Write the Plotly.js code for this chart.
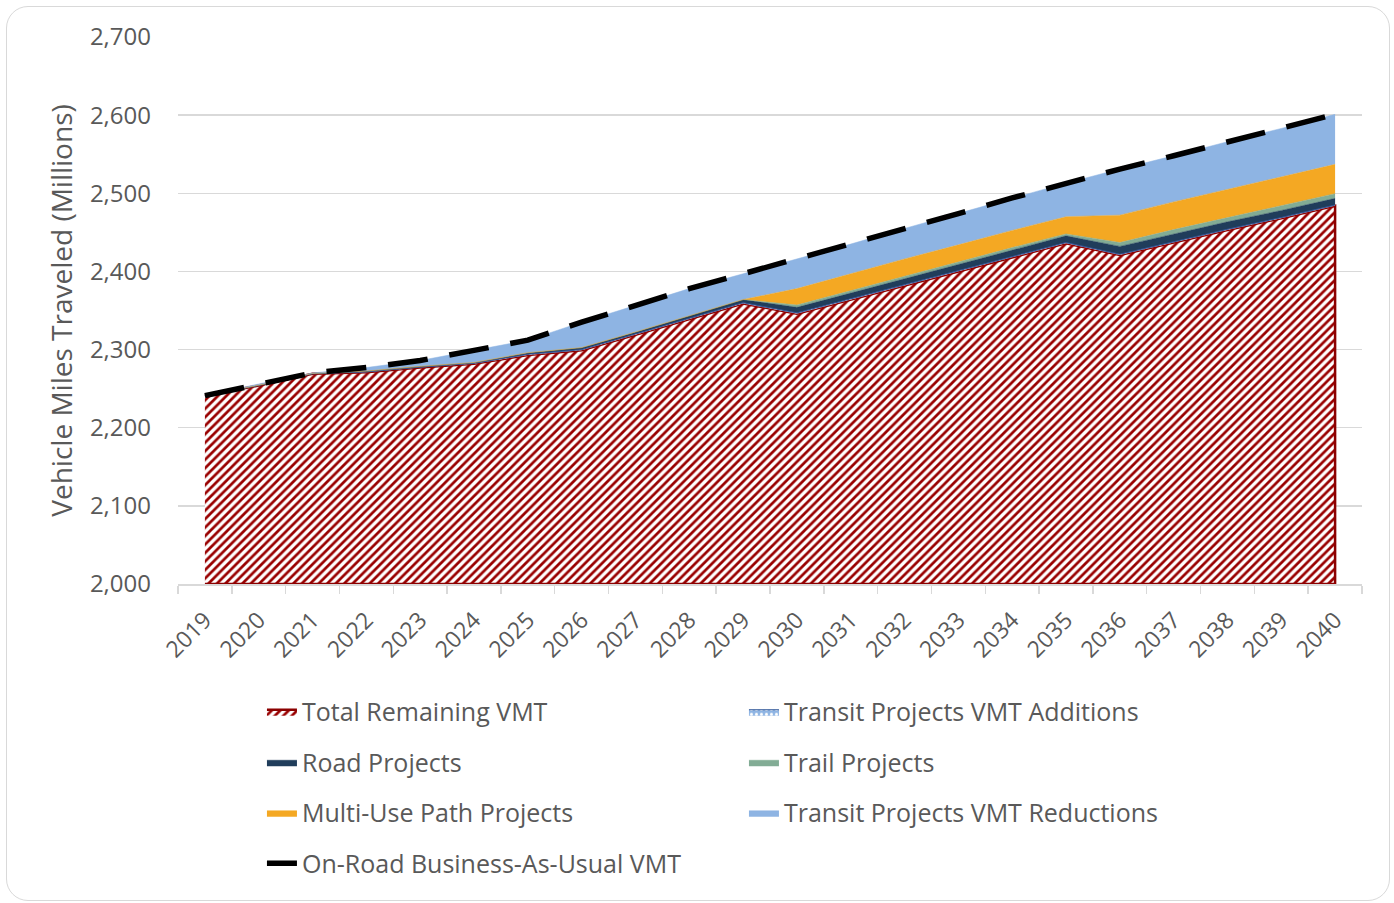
<!DOCTYPE html>
<html><head><meta charset="utf-8">
<script src="https://cdn.plot.ly/plotly-3.0.1.min.js"></script>
<style>
html,body{margin:0;padding:0;background:#fff;}
#chart{width:1394px;height:903px;}
#frame{position:absolute;left:6px;top:6px;width:1384px;height:895px;border:1.5px solid #D9D9D9;border-radius:22px;box-sizing:border-box;pointer-events:none;}
</style></head><body>
<div id="chart"></div><div id="frame"></div>
<script>
const years = ['2019','2020','2021','2022','2023','2024','2025','2026','2027','2028','2029','2030','2031','2032','2033','2034','2035','2036','2037','2038','2039','2040'];
const totalRemaining = [2241,2254,2269,2271,2277,2282,2293,2299,2319,2339,2359,2346,2364,2382,2400,2418,2436,2421,2437,2453,2468,2484];
const transitAdditions = [0,0,0,0.5,0.5,0.5,1,1,1,1,1,1,1,1,1,1,1,1,1,1,1,1];
const roadProjects = [0,0.5,0.5,1,1,1,2,2.5,2.5,3,4,7,7.5,8,8,8.5,8.5,10,10,9.5,9,8.5];
const trailProjects = [0,0,0,0,0,0,0,0,0,0,0,3,3,3,3,3,2.5,5,5.5,5.5,6,6];
const multiUsePath = [0,0,0,0,0,0,0,0,0,0,0,21,21.5,22,22,22,22,35,35.5,36,37,37.5];
const transitReductions = [0,1.5,0.5,4.5,7.5,15.5,16,32.5,34.5,35,33,38,38,39,40,41.5,43,59,59,61,62,64];
const bauVMT = [2241,2256,2270,2277,2286,2299,2312,2335,2357,2378,2397,2416,2435,2455,2474,2494,2513,2531,2548,2566,2583,2601];
const yMin = 2000, yMax = 2700;

const FONT = "'Open Sans', 'Liberation Sans', sans-serif";
const GREY = '#595959';

function addArr(a,b){return a.map((v,i)=>v+b[i]);}
const c0 = totalRemaining.slice();
const c1 = addArr(c0, transitAdditions);
const c2 = addArr(c1, roadProjects);
const c3 = addArr(c2, trailProjects);
const c4 = addArr(c3, multiUsePath);
const c5 = addArr(c4, transitReductions);

const polyX = years.concat(years.slice().reverse());
const polyY = totalRemaining.concat(years.map(()=>yMin));

const traces = [
  {x: polyX, y: polyY, type:'scatter', mode:'lines', fill:'toself', name:'Total Remaining VMT',
   fillcolor:'#ffffff', fillpattern:{shape:'/', fgcolor:'#990000', bgcolor:'#ffffff', size:6, solidity:0.45},
   line:{color:'#8B0000', width:2.5}, legend:'legend', legendgroup:'g1', hoverinfo:'skip'},
  {x: years, y: c0, type:'scatter', mode:'lines', line:{width:0, color:'rgba(0,0,0,0)'}, showlegend:false, hoverinfo:'skip'},
  {x: years, y: c1, type:'scatter', mode:'lines', fill:'tonexty', name:'Transit Projects VMT Additions',
   fillcolor:'#8EB4E3', fillpattern:{shape:'.', fgcolor:'#ffffff', bgcolor:'#8EB4E3', size:5, solidity:0.3},
   line:{color:'#2F5597', width:1}, legend:'legend2', legendgroup:'g2'},
  {x: years, y: c2, type:'scatter', mode:'lines', fill:'tonexty', name:'Road Projects',
   fillcolor:'#203D5B', line:{color:'#203D5B', width:0.5}, legend:'legend', legendgroup:'g3'},
  {x: years, y: c3, type:'scatter', mode:'lines', fill:'tonexty', name:'Trail Projects',
   fillcolor:'#82AC95', line:{color:'#82AC95', width:0.5}, legend:'legend2', legendgroup:'g4'},
  {x: years, y: c4, type:'scatter', mode:'lines', fill:'tonexty', name:'Multi-Use Path Projects',
   fillcolor:'#F4A823', line:{color:'#F4A823', width:0.5}, legend:'legend', legendgroup:'g5'},
  {x: years, y: c5, type:'scatter', mode:'lines', fill:'tonexty', name:'Transit Projects VMT Reductions',
   fillcolor:'#8EB4E3', line:{color:'#8EB4E3', width:0.5}, legend:'legend2', legendgroup:'g6'},
  {x: years, y: bauVMT, type:'scatter', mode:'lines', name:'On-Road Business-As-Usual VMT',
   line:{color:'#000000', width:5.5, dash:'40px,22px'}, legend:'legend', legendgroup:'g7'}
];

const legendBase = {
  orientation:'v', yref:'container', yanchor:'top', y:0.237, xanchor:'left', traceorder:'grouped',
  tracegroupgap:15, font:{family:FONT, size:25, color:GREY}, bgcolor:'rgba(0,0,0,0)', itemwidth:30
};

const layout = {
  width:1394, height:903,
  margin:{l:178, r:32, t:37, b:319},
  paper_bgcolor:'#ffffff', plot_bgcolor:'#ffffff',
  font:{family:FONT, color:GREY},
  showlegend:true,
  legend: Object.assign({}, legendBase, {x:0.0709}),
  legend2: Object.assign({}, legendBase, {x:0.478}),
  xaxis:{type:'category', range:[-0.5, 21.5], tickson:'boundaries', ticks:'outside', ticklen:8, tickcolor:'#D9D9D9', tickwidth:1.5,
    showline:true, linecolor:'#D9D9D9', linewidth:1.5, showgrid:false, tickangle:-45, ticklabelstandoff:12,
    tickfont:{family:FONT, size:23, color:GREY}, fixedrange:true, automargin:false},
  yaxis:{range:[yMin, yMax], dtick:100, tickformat:',d', showgrid:true, gridcolor:'#D9D9D9', gridwidth:1.5,
    zeroline:false, showline:false, ticks:'', ticklabelstandoff:26, automargin:false,
    tickfont:{family:FONT, size:24, color:GREY},
    title:{text:'Vehicle Miles Traveled (Millions)', font:{family:FONT, size:28, color:GREY}, standoff:9}, fixedrange:true}
};

Plotly.newPlot('chart', traces, layout, {displayModeBar:false, staticPlot:true});
</script>
</body></html>
